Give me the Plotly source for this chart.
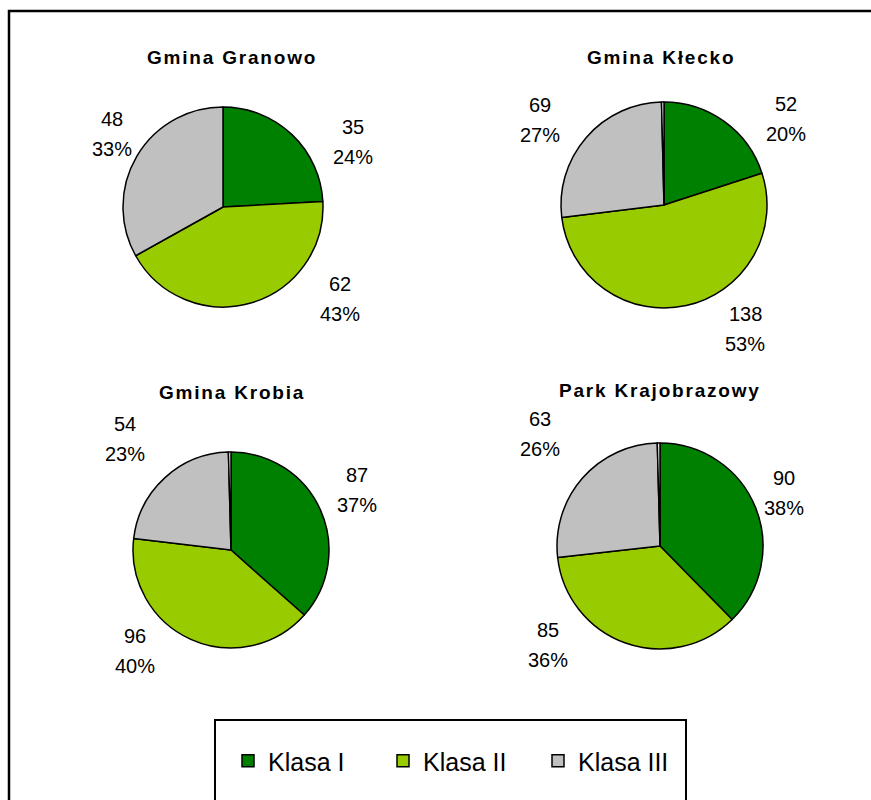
import plotly.graph_objects as go

# ---- data ----
classes = ["Klasa I", "Klasa II", "Klasa III", "Klasa IV"]
areas = ["Gmina Granowo", "Gmina Kłecko", "Gmina Krobia", "Park Krajobrazowy"]
granowo = [35, 62, 48, 0]
klecko = [52, 138, 69, 1]
krobia = [87, 96, 54, 1]
park = [90, 85, 63, 1]
series = [granowo, klecko, krobia, park]
labelled = 3  # only the first three classes carry labels and legend entries

# ---- styling / layout ----
W, H = 871, 800
colors = ["#008000", "#99CC00", "#C0C0C0", "#FFFFFF"]
FONT = "Liberation Sans, Arial, sans-serif"

# pie centres and radii in pixels
pie_geom = [
    (223, 207, 100),
    (664, 205, 103),
    (231, 550, 98),
    (660, 546, 103),
]
# title centres in pixels
title_pos = [(232, 57), (661, 57), (232, 392), (660, 390)]
# label block offsets from the pie centre (pixels), one per labelled slice
label_offsets = [
    [(130, -65), (117, 92), (-111, -73)],
    [(122, -86), (81, 124), (-124, -85)],
    [(126, -60), (-96, 101), (-106, -111)],
    [(124, -53), (-112, 99), (-120, -112)],
]
LINE_GAP = 29.5


def px(x):
    return x / W


def py(y):
    return 1 - y / H


fig = go.Figure()
annotations = []

for i, (name, vals) in enumerate(zip(areas, series)):
    cx, cy, r = pie_geom[i]
    # the first pie only holds the three legend classes
    n = labelled if i == 0 else len(classes)
    fig.add_trace(go.Pie(
        labels=classes[:n],
        values=vals[:n],
        sort=False,
        direction="clockwise",
        rotation=0,
        textinfo="none",
        marker=dict(colors=colors[:n], line=dict(color="black", width=1.5)),
        domain=dict(x=[px(cx - r), px(cx + r)], y=[py(cy + r), py(cy - r)]),
        showlegend=(i == 0),
        name=name,
    ))

    tx, ty = title_pos[i]
    annotations.append(dict(
        x=px(tx), y=py(ty), xref="paper", yref="paper",
        xanchor="center", yanchor="middle", showarrow=False,
        text=f'<span style="letter-spacing:1.8px">{name}</span>',
        font=dict(family=FONT, size=19, color="black", weight="bold"),
    ))

    total = sum(vals)
    for j in range(labelled):
        v = vals[j]
        dx, dy = label_offsets[i][j]
        pct = round(100 * v / total)
        for k, line in enumerate([str(v), f"{pct}%"]):
            ly = cy + dy + (k - 0.5) * LINE_GAP
            annotations.append(dict(
                x=px(cx + dx), y=py(ly), xref="paper", yref="paper",
                xanchor="center", yanchor="middle", showarrow=False,
                text=line,
                font=dict(family=FONT, size=20, color="black"),
            ))

shapes = [
    # outer chart frame
    dict(type="rect", xref="paper", yref="paper",
         x0=px(9), y0=py(11), x1=px(W + 20), y1=py(H + 20),
         line=dict(color="black", width=2.5), fillcolor="rgba(0,0,0,0)"),
    # legend frame
    dict(type="rect", xref="paper", yref="paper",
         x0=px(215), y0=py(720), x1=px(686), y1=py(H + 20),
         line=dict(color="black", width=2), fillcolor="rgba(0,0,0,0)"),
]

fig.update_layout(
    width=W, height=H,
    margin=dict(l=0, r=0, t=0, b=0),
    paper_bgcolor="white",
    plot_bgcolor="white",
    annotations=annotations,
    shapes=shapes,
    showlegend=True,
    legend=dict(
        orientation="h",
        x=px(228), xanchor="left",
        y=py(761), yanchor="middle",
        font=dict(family=FONT, size=25, color="black"),
        bgcolor="rgba(0,0,0,0)",
        borderwidth=0,
        entrywidth=110,
        entrywidthmode="pixels",
        traceorder="normal",
    ),
)

fig.write_html("out.html")
